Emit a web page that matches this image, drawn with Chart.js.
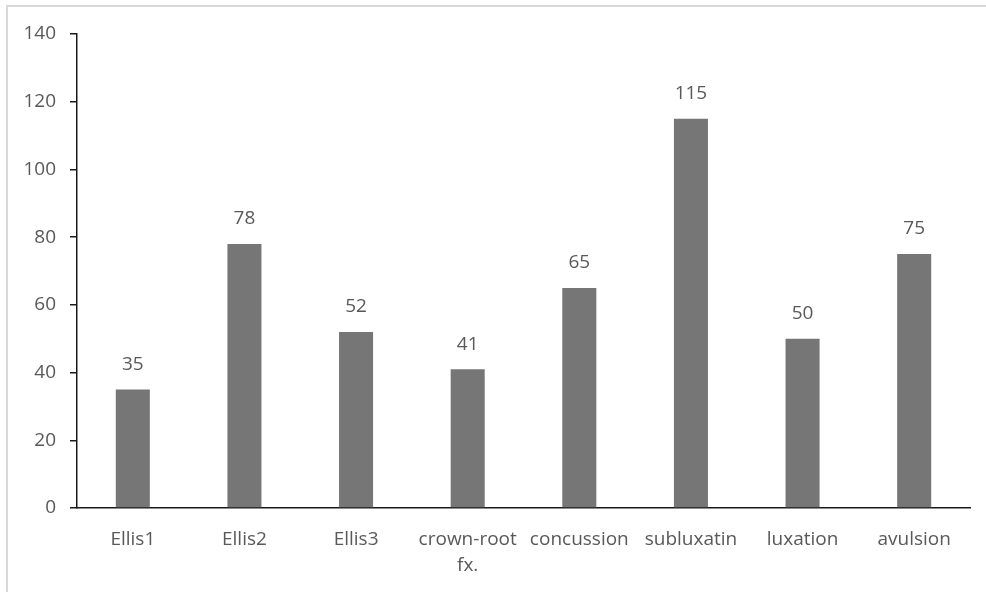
<!DOCTYPE html>
<html>
<head>
<meta charset="utf-8">
<script src="https://cdn.jsdelivr.net/npm/chart.js@4/dist/chart.umd.min.js"></script>
<style>
  html, body { margin: 0; padding: 0; overflow: hidden; background: #fff; }
  #wrap { position: relative; width: 986px; height: 592px; }
  #frame { position: absolute; left: 6px; top: 5px; right: -10px; bottom: -10px;
           border: 2px solid #d9d9d9; pointer-events: none; }
  canvas { position: absolute; left: 0; top: 0; }
</style>
</head>
<body>
<div id="wrap">
  <canvas id="c" width="986" height="592"></canvas>
  <div id="frame"></div>
</div>
<script>
// Dental trauma counts by injury type
const categories = ['Ellis1', 'Ellis2', 'Ellis3', ['crown-root', 'fx.'], 'concussion', 'subluxatin', 'luxation', 'avulsion'];
const counts = [35, 78, 52, 41, 65, 115, 50, 75];
const yMin = 0;
const yMax = 140;
const yStep = 20;

const FONT = "'Open Sans', 'Noto Sans', sans-serif";
const TEXT = '#595959';

// Writes each bar's value centred above it
const valueLabels = {
  id: 'valueLabels',
  afterDatasetsDraw(chart) {
    const ctx = chart.ctx;
    const meta = chart.getDatasetMeta(0);
    ctx.save();
    ctx.font = '19px ' + FONT;
    ctx.fillStyle = TEXT;
    ctx.textAlign = 'center';
    ctx.textBaseline = 'middle';
    meta.data.forEach((bar, i) => {
      ctx.fillText(String(counts[i]), bar.x, bar.y - 25);
    });
    ctx.restore();
  }
};

new Chart(document.getElementById('c'), {
  type: 'bar',
  data: {
    labels: categories,
    datasets: [{
      data: counts,
      backgroundColor: '#767676',
      borderWidth: 0,
      barPercentage: 0.305,
      categoryPercentage: 1.0
    }]
  },
  options: {
    responsive: false,
    animation: false,
    devicePixelRatio: 1,
    layout: { padding: { left: 7, right: 16, top: 34, bottom: 0 } },
    plugins: { legend: { display: false }, tooltip: { enabled: false } },
    scales: {
      x: {
        grid: { display: false, drawTicks: false },
        border: { color: '#1a1a1a', width: 1.5 },
        ticks: {
          color: TEXT,
          font: { family: FONT, size: 19, lineHeight: 1.4 },
          maxRotation: 0,
          autoSkip: false,
          padding: 18
        },
        afterFit(scale) { scale.height = 84; }
      },
      y: {
        min: yMin,
        max: yMax,
        grid: { drawOnChartArea: false, drawTicks: true, tickLength: 7, color: '#1a1a1a', lineWidth: 1.5 },
        border: { color: '#1a1a1a', width: 1.5 },
        ticks: {
          stepSize: yStep,
          color: TEXT,
          font: { family: FONT, size: 19 },
          padding: 14
        },
        afterFit(scale) { scale.width = 70; }
      }
    }
  },
  plugins: [valueLabels]
});
</script>
</body>
</html>
